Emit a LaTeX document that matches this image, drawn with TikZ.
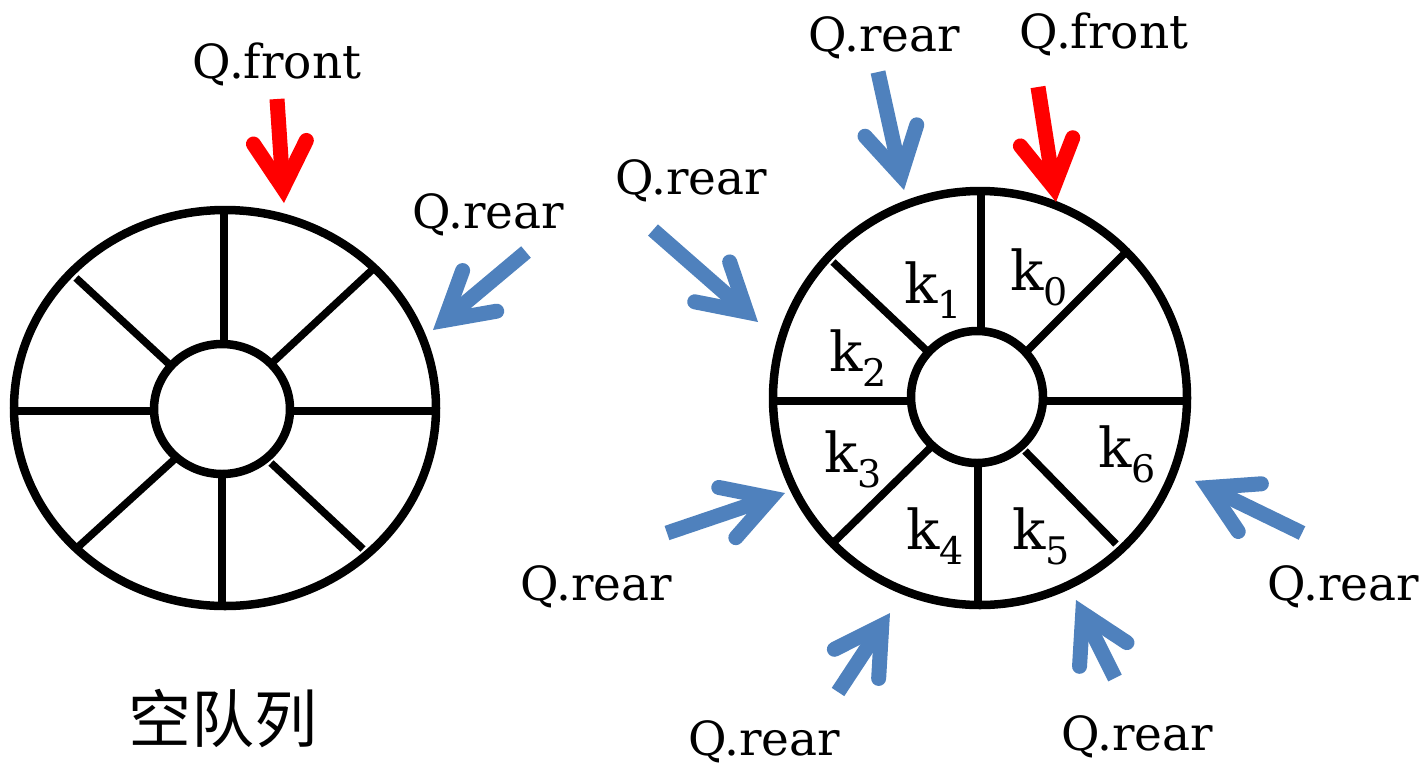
\documentclass[tikz,border=0pt]{standalone}
\usepackage{fontspec}
\setmainfont{DejaVu Serif}
\newfontfamily\cjk{Noto Sans CJK SC}
\usetikzlibrary{calc}
\definecolor{qblue}{HTML}{4F81BD}
\definecolor{qred}{HTML}{FF0000}

% pointer arrow: colour, start coordinate, tip coordinate
\newcommand\ptr[3]{%
  \coordinate (#3-c) at ($(#3)!15pt!(#2)$);
  \draw[#1, line width=15pt] (#2) -- (#3-c);
  \draw[#1, line width=15pt, line cap=round, line join=miter]
    ($(#3-c)!53pt!30:(#2)$) -- (#3-c) -- ($(#3-c)!53pt!-30:(#2)$);
}

\tikzset{
  wheel/.style={black, line width=8.5pt},
  spoke/.style={black, line width=7.5pt},
  lbl/.style={inner sep=0pt, anchor=base, font=\fontsize{47}{47}\selectfont},
  cell/.style={inner sep=0pt, font=\fontsize{55}{55}\selectfont},
}
\newcommand\sub[1]{\raisebox{-15pt}{\fontsize{38}{38}\selectfont #1}}

\begin{document}
\begin{tikzpicture}[x=1pt, y=-1pt]
\useasboundingbox (0,0) rectangle (1426,764);

% ---- empty queue ----
\coordinate (lc) at (225,408);
\coordinate (li) at (222,409);
\draw[wheel] (lc) ellipse [x radius=211pt, y radius=198pt];
\draw[wheel] (li) ellipse [x radius=68pt, y radius=65pt];
\draw[spoke] (224,212) -- (224,344);
\draw[spoke] (222,474) -- (222,606);
\draw[spoke] (15,411) -- (154,411);
\draw[spoke] (290,411) -- (434,411);
\draw[spoke] (76,278) -- (170,365);
\draw[spoke] (372,270) -- (273,362);
\draw[spoke] (78,547) -- (177,457);
\draw[spoke] (363,549) -- (271,463);

\node[lbl] (lfront) at (277,78) {Q.front};
\node[lbl] (lrear) at (488,228) {Q.rear};
\node[inner sep=0pt, font=\cjk\fontsize{63}{63}\selectfont] (title) at (223,719) {空队列};

\coordinate (a1s) at (277,99);  \coordinate (a1t) at (284,203);
\coordinate (a2s) at (526,252); \coordinate (a2t) at (433,330);
\ptr{qred}{a1s}{a1t}
\ptr{qblue}{a2s}{a2t}

% ---- queue with elements ----
\coordinate (rc) at (980,398);
\coordinate (ri) at (977,397);
\draw[wheel] (rc) circle [radius=207pt];
\draw[wheel] (ri) circle [radius=66pt];
\draw[spoke] (981,194) -- (981,331);
\draw[spoke] (978,463) -- (978,602);
\draw[spoke] (775,401) -- (911,401);
\draw[spoke] (1043,401) -- (1186,401);
\draw[spoke] (833,262) -- (926,350);
\draw[spoke] (1126,252) -- (1028,350);
\draw[spoke] (931,447) -- (835,541);
\draw[spoke] (1025,451) -- (1116,544);

\node[cell] (k0) at (1039,277) {k\sub{0}};
\node[cell] (k1) at (933,290) {k\sub{1}};
\node[cell] (k2) at (858,358) {k\sub{2}};
\node[cell] (k3) at (853,459) {k\sub{3}};
\node[cell] (k4) at (935,536) {k\sub{4}};
\node[cell] (k5) at (1041,536) {k\sub{5}};
\node[cell] (k6) at (1127,454) {k\sub{6}};

\node[lbl] (rfront) at (1104,48) {Q.front};
\node[lbl] (r1) at (884,51) {Q.rear};
\node[lbl] (r2) at (691,194) {Q.rear};
\node[lbl] (r3) at (596,600) {Q.rear};
\node[lbl] (r4) at (764,755) {Q.rear};
\node[lbl] (r5) at (1137,750) {Q.rear};
\node[lbl] (r6) at (1343,600) {Q.rear};

\coordinate (b0s) at (1038,87);  \coordinate (b0t) at (1056,202);
\coordinate (b1s) at (878,72);   \coordinate (b1t) at (904,190);
\coordinate (b2s) at (653,230);  \coordinate (b2t) at (758,322);
\coordinate (b3s) at (667,533);  \coordinate (b3t) at (785,493);
\coordinate (b4s) at (838,692);  \coordinate (b4t) at (890,613);
\coordinate (b5s) at (1115,678); \coordinate (b5t) at (1076,600);
\coordinate (b6s) at (1302,533); \coordinate (b6t) at (1195,481);
\ptr{qred}{b0s}{b0t}
\ptr{qblue}{b1s}{b1t}
\ptr{qblue}{b2s}{b2t}
\ptr{qblue}{b3s}{b3t}
\ptr{qblue}{b4s}{b4t}
\ptr{qblue}{b5s}{b5t}
\ptr{qblue}{b6s}{b6t}
\end{tikzpicture}
\end{document}
